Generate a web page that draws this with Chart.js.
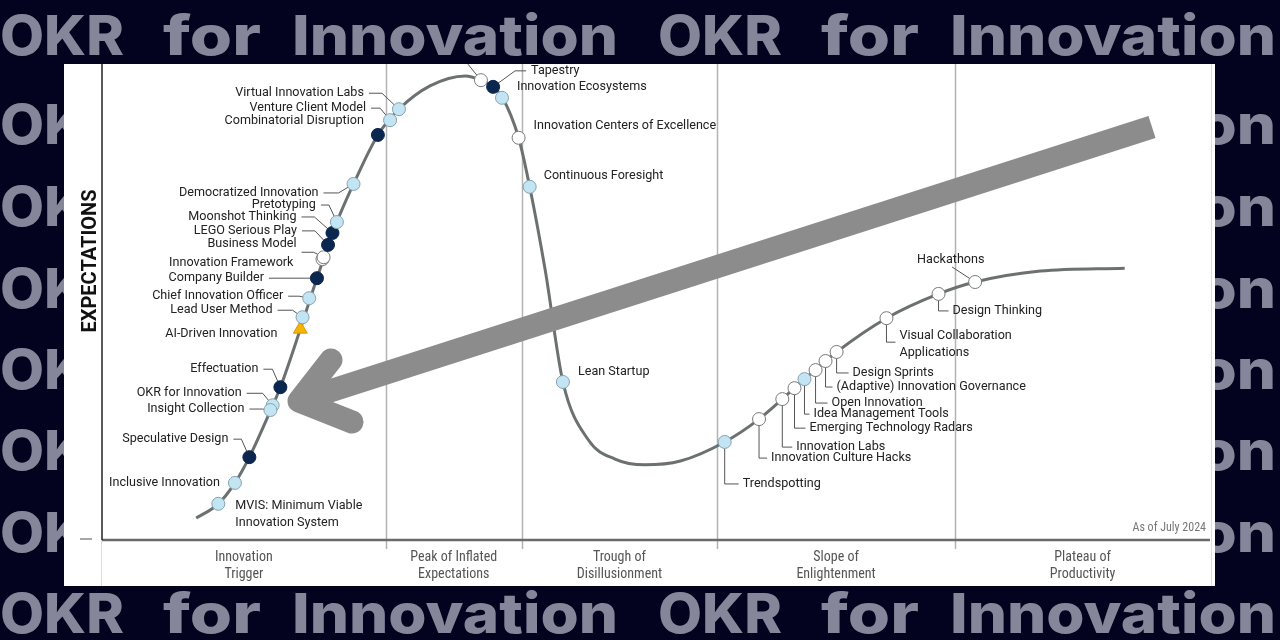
<!DOCTYPE html>
<html>
<head>
<meta charset="utf-8">
<script src="https://cdn.jsdelivr.net/npm/chart.js@4.4.1/dist/chart.umd.min.js"></script>
<style>
  html, body { margin: 0; padding: 0; background: #03031f; overflow: hidden; }
  canvas { display: block; }
</style>
</head>
<body>
<canvas id="hype" width="1280" height="640"></canvas>
<script>
// hype curve (time 0-100, expectations 0-100)
const curveX = [8.5, 10.5, 12.0, 13.3, 15.3, 16.1, 17.9, 19.4, 21.2, 22.7, 24.9, 26.8, 29.6, 32.8, 34.2, 35.3, 36.1, 37.6, 38.6, 40.0, 41.6, 43.9, 46.3, 49.0, 52.2, 56.2, 59.3, 63.4, 66.3, 70.8, 75.5, 78.8, 84.7, 92.3];
const curveY = [4.6, 7.6, 12.0, 17.4, 27.7, 32.1, 44.3, 55.0, 66.8, 74.8, 85.1, 90.5, 95.4, 97.5, 96.6, 95.2, 93.1, 84.5, 74.2, 56.7, 33.2, 21.0, 17.0, 15.8, 16.6, 20.6, 25.4, 33.8, 39.5, 46.6, 51.7, 54.2, 56.5, 57.1];

// innovation topics on the curve
const techNames = [
  'MVIS: Minimum Viable\nInnovation System', 'Inclusive Innovation', 'Speculative Design', 'OKR for Innovation',
  'Insight Collection', 'Effectuation', 'AI-Driven Innovation', 'Lead User Method', 'Chief Innovation Officer',
  'Company Builder', 'Innovation Framework', 'Business Model', 'LEGO Serious Play', 'Moonshot Thinking',
  'Pretotyping', 'Democratized Innovation', 'Combinatorial Disruption', 'Venture Client Model',
  'Virtual Innovation Labs', '', 'Tapestry', 'Innovation Ecosystems', 'Innovation Centers of Excellence',
  'Continuous Foresight', 'Lean Startup', 'Trendspotting', 'Innovation Culture Hacks', 'Innovation Labs',
  'Emerging Technology Radars', 'Idea Management Tools', 'Open Innovation', '(Adaptive) Innovation Governance',
  'Design Sprints', 'Visual Collaboration\nApplications', 'Design Thinking', 'Hackathons'
];
const techX = [10.5, 12.0, 13.3, 15.4, 15.2, 16.1, 17.9, 18.1, 18.7, 19.4, 19.9, 20.0, 20.4, 20.8, 21.2, 22.7, 24.9, 26.0, 26.8, 34.2, 35.3, 36.1, 37.6, 38.6, 41.6, 56.2, 59.3, 61.4, 62.5, 63.4, 64.4, 65.3, 66.3, 70.8, 75.5, 78.8];
const techY = [7.6, 12.0, 17.4, 28.3, 27.3, 32.1, 44.3, 46.8, 50.8, 55.0, 59.0, 59.4, 62.0, 64.5, 66.8, 74.8, 85.1, 88.2, 90.5, 96.6, 95.2, 92.9, 84.5, 74.2, 33.2, 20.6, 25.4, 29.6, 31.9, 33.8, 35.7, 37.6, 39.5, 46.6, 51.7, 54.2];
// l = light blue, d = dark, w = white, t = triangle
const techStatus = ['l', 'l', 'd', 'l', 'l', 'd', 't', 'l', 'l', 'd', 'w', 'w', 'd', 'd', 'l', 'l', 'd', 'l', 'l', 'w', 'd', 'l', 'w', 'l', 'l', 'l', 'w', 'w', 'w', 'l', 'w', 'w', 'w', 'w', 'w', 'w'];

const phaseNames = [['Innovation', 'Trigger'], ['Peak of Inflated', 'Expectations'], ['Trough of', 'Disillusionment'], ['Slope of', 'Enlightenment'], ['Plateau of', 'Productivity']];
const phaseBounds = [0, 25.6, 37.9, 55.5, 77.0, 100];

// label placement (pixels relative to the point)
const labelLayout = [
  { t: 'R', dx: 17, dy: 2 }, { t: 'N', dx: -15, dy: 0 }, { t: 'L', dx: -21, dy: -18, k: -8 },
  { t: 'L', dx: -31, dy: -12, k: -10 }, { t: 'L', dx: -26, dy: -1, k: -8 }, { t: 'L', dx: -22, dy: -18, k: -8 },
  { t: 'N', dx: -23, dy: 5 }, { t: 'L', dx: -30, dy: -7, k: -10 }, { t: 'L', dx: -26, dy: -2, k: -10 },
  { t: 'L', dx: -53, dy: 0, k: -8 }, { t: 'N', dx: -29, dy: 4 }, { t: 'L', dx: -27, dy: -13, ly: -5, k: -10 },
  { t: 'L', dx: -31, dy: -14, k: -13 }, { t: 'L', dx: -36, dy: -16, k: -18 }, { t: 'L', dx: -21, dy: -17, k: -8 },
  { t: 'L', dx: -35, dy: 9, k: -15 }, { t: 'N', dx: -14, dy: -14 }, { t: 'L', dx: -24, dy: -12, k: -10 },
  { t: 'L', dx: -35, dy: -16, k: -17 }, { t: 'U', dx: -13, dy: -16 }, { t: 'RL', dx: 38, dy: -16, k: 22 },
  { t: 'R', dx: 15, dy: -11 }, { t: 'R', dx: 15, dy: -12 }, { t: 'R', dx: 14, dy: -11 },
  { t: 'R', dx: 15, dy: -10 }, { t: 'E', dx: 18, dy: 42 }, { t: 'E', dx: 12, dy: 39 },
  { t: 'E', dx: 14, dy: 48 }, { t: 'E', dx: 15, dy: 40 }, { t: 'E', dx: 9, dy: 35 },
  { t: 'E', dx: 16, dy: 33 }, { t: 'E', dx: 11, dy: 26 }, { t: 'E', dx: 16, dy: 21 },
  { t: 'E', dx: 13, dy: 18, ly: 24 }, { t: 'E', dx: 14, dy: 17 }, { t: 'H', dx: -58, dy: -22, lx: -23, ly: -15 }
];

const fills = { l: '#c3e5f3', d: '#0b264f', w: '#ffffff', t: '#f4b400' };
const borders = { l: '#86a3b0', d: '#0b264f', w: '#7a7a7a', t: '#d99a00' };

const LABEL_FONT = '12.6px Roboto, "Liberation Sans", sans-serif';
const NARROW_FONT = '"Liberation Sans Narrow", "Roboto Condensed", Roboto, sans-serif';

function drawWord(ctx, word, x, w, base) {
  const m = ctx.measureText(word).width;
  ctx.save();
  ctx.translate(x, base);
  ctx.scale(w / m, 1);
  ctx.fillText(word, 0, 0);
  ctx.restore();
}

const backdrop = {
  id: 'backdrop',
  beforeDraw(chart) {
    const ctx = chart.ctx;
    ctx.save();
    ctx.fillStyle = '#03031f';
    ctx.fillRect(0, 0, 1280, 640);
    // watermark rows
    ctx.fillStyle = '#86869a';
    ctx.font = '800 55px Inter, "Open Sans", sans-serif';
    ctx.textBaseline = 'alphabetic';
    const words = [['OKR', 0, 124], ['for', 163, 98], ['Innovation', 292, 326], ['OKR', 658, 124], ['for', 821, 98], ['Innovation', 950, 326]];
    [15, 104, 186, 268, 349, 430, 512, 593].forEach(top => {
      words.forEach(w => drawWord(ctx, w[0], w[1], w[2], top + 40));
    });
    // white panel
    ctx.fillStyle = '#ffffff';
    ctx.fillRect(64, 64, 1151, 522);
    ctx.strokeStyle = '#dddddd';
    ctx.lineWidth = 1;
    ctx.beginPath();
    ctx.moveTo(1211.5, 64); ctx.lineTo(1211.5, 586);
    ctx.moveTo(101.5, 540); ctx.lineTo(101.5, 586);
    ctx.stroke();
    ctx.restore();
  },
  beforeDatasetsDraw(chart) {
    const ctx = chart.ctx;
    const xs = chart.scales.x;
    const a = chart.chartArea;
    ctx.save();
    // phase dividers
    ctx.strokeStyle = '#b3b3b3';
    ctx.lineWidth = 1.5;
    for (let i = 1; i < phaseBounds.length - 1; i++) {
      const x = Math.round(xs.getPixelForValue(phaseBounds[i])) + 0.5;
      ctx.beginPath(); ctx.moveTo(x, 64); ctx.lineTo(x, a.bottom + 9); ctx.stroke();
    }
    // axes
    ctx.strokeStyle = '#6a6a6a';
    ctx.lineWidth = 2.5;
    ctx.beginPath(); ctx.moveTo(a.left, a.bottom); ctx.lineTo(a.right, a.bottom); ctx.stroke();
    ctx.strokeStyle = '#222';
    ctx.lineWidth = 1.5;
    ctx.beginPath(); ctx.moveTo(a.left, 64); ctx.lineTo(a.left, a.bottom); ctx.stroke();
    ctx.strokeStyle = '#8a8a8a';
    ctx.beginPath(); ctx.moveTo(80, a.bottom - 1); ctx.lineTo(92, a.bottom - 1); ctx.stroke();

    // phase names
    ctx.fillStyle = '#555';
    ctx.font = '14px ' + NARROW_FONT;
    ctx.textAlign = 'center';
    ctx.textBaseline = 'middle';
    phaseNames.forEach((p, i) => {
      const cx = (xs.getPixelForValue(phaseBounds[i]) + xs.getPixelForValue(phaseBounds[i + 1])) / 2;
      ctx.fillText(p[0], cx, a.bottom + 17);
      ctx.fillText(p[1], cx, a.bottom + 34);
    });
    ctx.fillStyle = '#777';
    ctx.font = '12px ' + NARROW_FONT;
    ctx.textAlign = 'right';
    ctx.fillText('As of July 2024', a.right - 4, a.bottom - 12);

    // y title
    ctx.save();
    ctx.translate(91, 261);
    ctx.rotate(-Math.PI / 2);
    ctx.fillStyle = '#111';
    ctx.font = 'bold 20px Roboto, sans-serif';
    ctx.textAlign = 'center';
    ctx.fillText('EXPECTATIONS', 0, 0);
    ctx.restore();

    // leader lines
    const pts = chart.getDatasetMeta(0).data;
    ctx.strokeStyle = '#555';
    ctx.lineWidth = 1;
    pts.forEach((p, i) => {
      const L = labelLayout[i];
      const ly = L.ly !== undefined ? L.ly : L.dy;
      ctx.beginPath();
      if (L.t === 'L') {
        ctx.moveTo(p.x + L.dx + 5, p.y + ly);
        ctx.lineTo(p.x + L.k, p.y + ly);
        ctx.lineTo(p.x, p.y);
      } else if (L.t === 'RL') {
        ctx.moveTo(p.x + L.dx - 5, p.y + ly);
        ctx.lineTo(p.x + L.k, p.y + ly);
        ctx.lineTo(p.x, p.y);
      } else if (L.t === 'E') {
        ctx.moveTo(p.x, p.y);
        ctx.lineTo(p.x, p.y + ly);
        ctx.lineTo(p.x + L.dx - 4, p.y + ly);
      } else if (L.t === 'H') {
        ctx.moveTo(p.x + L.lx, p.y + L.ly);
        ctx.lineTo(p.x, p.y);
      } else if (L.t === 'U') {
        ctx.moveTo(p.x, p.y);
        ctx.lineTo(p.x + L.dx, p.y + L.dy);
      }
      ctx.stroke();
    });
    ctx.restore();
  },
  afterDatasetsDraw(chart) {
    const ctx = chart.ctx;
    const pts = chart.getDatasetMeta(0).data;
    ctx.save();
    ctx.fillStyle = '#222';
    ctx.font = LABEL_FONT;
    ctx.textBaseline = 'middle';
    pts.forEach((p, i) => {
      const L = labelLayout[i];
      if (!techNames[i] || L.t === 'U') return;
      ctx.textAlign = (L.t === 'L' || L.t === 'N') ? 'right' : 'left';
      techNames[i].split('\n').forEach((line, j) => {
        ctx.fillText(line, p.x + L.dx, p.y + L.dy + j * 17);
      });
    });
    // grey arrow overlay
    ctx.strokeStyle = '#8c8c8c';
    ctx.lineWidth = 23;
    ctx.lineCap = 'butt';
    ctx.beginPath();
    ctx.moveTo(1152, 127);
    ctx.lineTo(305, 399);
    ctx.stroke();
    ctx.lineCap = 'round';
    ctx.lineJoin = 'round';
    ctx.beginPath();
    ctx.moveTo(331, 360);
    ctx.lineTo(299, 401);
    ctx.lineTo(352, 422);
    ctx.stroke();
    ctx.restore();
  }
};

new Chart(document.getElementById('hype'), {
  type: 'scatter',
  data: {
    datasets: [
      {
        label: 'Topics',
        order: 0,
        data: techX.map((x, i) => ({ x, y: techY[i] })),
        pointStyle: c => techStatus[c.dataIndex] === 't' ? 'triangle' : 'circle',
        pointRadius: c => techStatus[c.dataIndex] === 't' ? 8 : 6.5,
        pointBackgroundColor: c => fills[techStatus[c.dataIndex]],
        pointBorderColor: c => borders[techStatus[c.dataIndex]],
        pointBorderWidth: 1,
        clip: false
      },
      {
        label: 'Hype cycle',
        order: 1,
        data: curveX.map((x, i) => ({ x, y: curveY[i] })),
        showLine: true,
        cubicInterpolationMode: 'monotone',
        borderColor: '#6b7170',
        borderWidth: 3,
        pointRadius: 0,
        clip: false
      }
    ]
  },
  options: {
    responsive: false,
    devicePixelRatio: 1,
    animation: false,
    events: [],
    layout: { padding: { left: 102, right: 70, top: 64, bottom: 100 } },
    scales: {
      x: { type: 'linear', min: 0, max: 100, display: false },
      y: { type: 'linear', min: 0, max: 100, display: false }
    },
    plugins: { legend: { display: false }, tooltip: { enabled: false } }
  },
  plugins: [backdrop]
});
</script>
</body>
</html>
